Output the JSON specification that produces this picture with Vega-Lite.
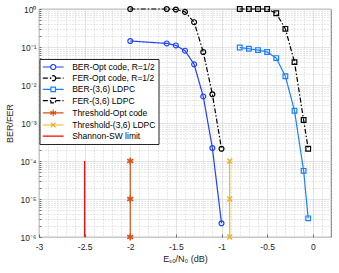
{
  "$schema": "https://vega.github.io/schema/vega-lite/v6.json",
  "width": 292,
  "height": 228,
  "autosize": {"type": "none"},
  "padding": {"left": 39, "top": 9, "right": 8, "bottom": 36},
  "background": "white",
  "config": {
    "font": "Liberation Sans",
    "view": {"stroke": "#404040", "strokeWidth": 0.8},
    "axis": {
      "labelFont": "Liberation Sans",
      "labelFontSize": 8.5,
      "labelColor": "#262626",
      "titleFont": "Liberation Sans",
      "titleFontSize": 9,
      "titleFontWeight": "normal",
      "titleColor": "#262626",
      "domain": false,
      "labelOverlap": false,
      "labelFlush": false,
      "tickColor": "#404040",
      "tickWidth": 0.7
    }
  },
  "data": {
    "values": [
      {"s": "BER-Opt code, R=1/2", "x": -2.0, "y": 0.144},
      {"s": "BER-Opt code, R=1/2", "x": -1.6, "y": 0.124},
      {"s": "BER-Opt code, R=1/2", "x": -1.5, "y": 0.11},
      {"s": "BER-Opt code, R=1/2", "x": -1.4, "y": 0.08},
      {"s": "BER-Opt code, R=1/2", "x": -1.3, "y": 0.035},
      {"s": "BER-Opt code, R=1/2", "x": -1.2, "y": 0.005},
      {"s": "BER-Opt code, R=1/2", "x": -1.1, "y": 0.00022},
      {"s": "BER-Opt code, R=1/2", "x": -1.0, "y": 0.0000023},
      {"s": "FER-Opt code, R=1/2", "x": -2.0, "y": 1},
      {"s": "FER-Opt code, R=1/2", "x": -1.6, "y": 1},
      {"s": "FER-Opt code, R=1/2", "x": -1.5, "y": 0.97},
      {"s": "FER-Opt code, R=1/2", "x": -1.4, "y": 0.84},
      {"s": "FER-Opt code, R=1/2", "x": -1.3, "y": 0.45},
      {"s": "FER-Opt code, R=1/2", "x": -1.2, "y": 0.074},
      {"s": "FER-Opt code, R=1/2", "x": -1.1, "y": 0.0057},
      {"s": "FER-Opt code, R=1/2", "x": -1.0, "y": 0.00021},
      {"s": "BER-(3,6) LDPC", "x": -0.8, "y": 0.097},
      {"s": "BER-(3,6) LDPC", "x": -0.7, "y": 0.09},
      {"s": "BER-(3,6) LDPC", "x": -0.6, "y": 0.083},
      {"s": "BER-(3,6) LDPC", "x": -0.5, "y": 0.074},
      {"s": "BER-(3,6) LDPC", "x": -0.4, "y": 0.051},
      {"s": "BER-(3,6) LDPC", "x": -0.3, "y": 0.017},
      {"s": "BER-(3,6) LDPC", "x": -0.2, "y": 0.0021},
      {"s": "BER-(3,6) LDPC", "x": -0.1, "y": 0.000055},
      {"s": "BER-(3,6) LDPC", "x": -0.05, "y": 0.0000031},
      {"s": "FER-(3,6) LDPC", "x": -0.8, "y": 1},
      {"s": "FER-(3,6) LDPC", "x": -0.7, "y": 1},
      {"s": "FER-(3,6) LDPC", "x": -0.6, "y": 1},
      {"s": "FER-(3,6) LDPC", "x": -0.5, "y": 1},
      {"s": "FER-(3,6) LDPC", "x": -0.4, "y": 0.77},
      {"s": "FER-(3,6) LDPC", "x": -0.3, "y": 0.3},
      {"s": "FER-(3,6) LDPC", "x": -0.2, "y": 0.04},
      {"s": "FER-(3,6) LDPC", "x": -0.1, "y": 0.0012},
      {"s": "FER-(3,6) LDPC", "x": -0.05, "y": 0.00021},
      {"s": "Threshold-Opt code", "x": -2.0, "y": 0.0001},
      {"s": "Threshold-Opt code", "x": -2.0, "y": 0.00001},
      {"s": "Threshold-Opt code", "x": -2.0, "y": 0.000001},
      {"s": "Threshold-(3,6) LDPC", "x": -0.91, "y": 0.0001},
      {"s": "Threshold-(3,6) LDPC", "x": -0.91, "y": 0.00001},
      {"s": "Threshold-(3,6) LDPC", "x": -0.91, "y": 0.000001},
      {"s": "Shannon-SW limit", "x": -2.5, "y": 0.0001},
      {"s": "Shannon-SW limit", "x": -2.5, "y": 0.000001}
    ]
  },
  "encoding": {
    "x": {
      "field": "x",
      "type": "quantitative",
      "scale": {"domain": [-3, 0.2], "nice": false, "zero": false},
      "axis": {
        "title": "Eₛₒ/N₀ (dB)",
        "titlePadding": 4,
        "values": [-3, -2.9, -2.8, -2.7, -2.6, -2.5, -2.4, -2.3, -2.2, -2.1, -2, -1.9, -1.8, -1.7, -1.6, -1.5, -1.4, -1.3, -1.2, -1.1, -1, -0.9, -0.8, -0.7, -0.6, -0.5, -0.4, -0.3, -0.2, -0.1, 0, 0.1, 0.2],
        "labelExpr": "abs(datum.value*2 - round(datum.value*2)) < 1e-6 ? '' + datum.value : ''",
        "grid": true,
        "gridColor": {"condition": {"test": "abs(datum.value*2 - round(datum.value*2)) < 1e-6", "value": "#dcdcdc"}, "value": "#c4c4c4"},
        "gridDash": {"condition": {"test": "abs(datum.value*2 - round(datum.value*2)) < 1e-6", "value": []}, "value": [1, 2]},
        "gridWidth": 0.8,
        "tickSize": -3,
        "tickOpacity": {"condition": {"test": "abs(datum.value*2 - round(datum.value*2)) < 1e-6", "value": 1}, "value": 0},
        "labelPadding": 8
      }
    },
    "y": {
      "field": "y",
      "type": "quantitative",
      "scale": {"type": "log", "domain": [0.000001, 1], "nice": false},
      "axis": {
        "title": "BER/FER",
        "titlePadding": 5,
        "values": [0.000001, 0.000002, 0.000003, 0.000004, 0.000005, 0.000006, 0.000007, 0.000008, 0.000009, 0.00001, 0.00002, 0.00003, 0.00004, 0.00005, 0.00006, 0.00007, 0.00008, 0.00009, 0.0001, 0.0002, 0.0003, 0.0004, 0.0005, 0.0006, 0.0007, 0.0008, 0.0009, 0.001, 0.002, 0.003, 0.004, 0.005, 0.006, 0.007, 0.008, 0.009, 0.01, 0.02, 0.03, 0.04, 0.05, 0.06, 0.07, 0.08, 0.09, 0.1, 0.2, 0.3, 0.4, 0.5, 0.6, 0.7, 0.8, 0.9, 1],
        "labelExpr": "abs(log(datum.value)/LN10 - round(log(datum.value)/LN10)) < 1e-6 ? '10' + (round(log(datum.value)/LN10) < 0 ? '⁻' : '') + substring('⁰¹²³⁴⁵⁶', abs(round(log(datum.value)/LN10)), abs(round(log(datum.value)/LN10)) + 1) : ''",
        "grid": true,
        "gridColor": {"condition": {"test": "abs(log(datum.value)/LN10 - round(log(datum.value)/LN10)) < 1e-6", "value": "#dcdcdc"}, "value": "#c4c4c4"},
        "gridDash": {"condition": {"test": "abs(log(datum.value)/LN10 - round(log(datum.value)/LN10)) < 1e-6", "value": []}, "value": [1, 2]},
        "gridWidth": 0.8,
        "tickSize": -2,
        "labelPadding": 5
      }
    },
    "color": {
      "field": "s",
      "type": "nominal",
      "scale": {
        "domain": ["BER-Opt code, R=1/2", "FER-Opt code, R=1/2", "BER-(3,6) LDPC", "FER-(3,6) LDPC", "Threshold-Opt code", "Threshold-(3,6) LDPC", "Shannon-SW limit"],
        "range": ["#1f40ff", "#000000", "#1a7fff", "#000000", "#d95319", "#edb120", "#ff0000"]
      },
      "legend": {
        "title": null,
        "orient": "none",
        "legendX": 0.5,
        "legendY": 50,
        "columns": 1,
        "padding": 3,
        "rowPadding": 1.2,
        "labelFont": "Liberation Sans",
        "labelFontSize": 8.5,
        "labelColor": "#000000",
        "labelLimit": 300,
        "symbolSize": 64,
        "symbolOffset": 5.7,
        "labelOffset": 14,
        "symbolStrokeWidth": 1.2,
        "symbolOpacity": 1,
        "symbolFillColor": "transparent",
        "strokeColor": "#262626",
        "fillColor": "white"
      }
    }
  },
  "layer": [
    {
      "mark": {"type": "line"},
      "encoding": {
        "strokeDash": {
          "field": "s",
          "type": "nominal",
          "scale": {
            "domain": ["BER-Opt code, R=1/2", "FER-Opt code, R=1/2", "BER-(3,6) LDPC", "FER-(3,6) LDPC", "Threshold-Opt code", "Threshold-(3,6) LDPC", "Shannon-SW limit"],
            "range": [[1, 0], [5, 2, 1.5, 2], [1, 0], [5, 2, 1.5, 2], [1, 0], [1, 0], [1, 0]]
          }
        },
        "strokeWidth": {
          "field": "s",
          "type": "nominal",
          "scale": {
            "domain": ["BER-Opt code, R=1/2", "FER-Opt code, R=1/2", "BER-(3,6) LDPC", "FER-(3,6) LDPC", "Threshold-Opt code", "Threshold-(3,6) LDPC", "Shannon-SW limit"],
            "range": [1.2, 1.2, 1.2, 1.2, 1.6, 1.6, 2]
          },
          "legend": null
        }
      }
    },
    {
      "transform": [{"filter": "datum.s == 'BER-Opt code, R=1/2' || datum.s == 'FER-Opt code, R=1/2'"}],
      "mark": {"type": "point", "shape": "circle", "filled": false, "size": 24, "strokeWidth": 1.2, "opacity": 1}
    },
    {
      "transform": [{"filter": "datum.s == 'BER-(3,6) LDPC' || datum.s == 'FER-(3,6) LDPC'"}],
      "mark": {"type": "point", "shape": "square", "filled": false, "size": 22, "strokeWidth": 1.2, "opacity": 1}
    },
    {
      "transform": [{"filter": "datum.s == 'Threshold-Opt code'"}],
      "mark": {"type": "point", "shape": "M0,-1L0,1M-0.87,-0.5L0.87,0.5M-0.87,0.5L0.87,-0.5", "filled": false, "size": 49, "strokeWidth": 1.6, "opacity": 1}
    },
    {
      "transform": [{"filter": "datum.s == 'Threshold-(3,6) LDPC'"}],
      "mark": {"type": "point", "shape": "M-0.75,-0.75L0.75,0.75M-0.75,0.75L0.75,-0.75", "filled": false, "size": 42, "strokeWidth": 1.4, "opacity": 1}
    },
    {
      "mark": {"type": "point", "filled": false, "opacity": 0, "size": 64},
      "encoding": {
        "shape": {
          "field": "s",
          "type": "nominal",
          "scale": {
            "domain": ["BER-Opt code, R=1/2", "FER-Opt code, R=1/2", "BER-(3,6) LDPC", "FER-(3,6) LDPC", "Threshold-Opt code", "Threshold-(3,6) LDPC", "Shannon-SW limit"],
            "range": [
              "M-2.6,0L-0.63,0M0.63,0L2.6,0M0.63,0A0.63,0.63,0,1,1,-0.63,0A0.63,0.63,0,1,1,0.63,0",
              "M-2.6,0L-0.63,0M0.63,0L2.6,0M0.63,0A0.63,0.63,0,1,1,-0.63,0A0.63,0.63,0,1,1,0.63,0",
              "M-2.6,0L-0.56,0M0.56,0L2.6,0M-0.56,-0.56L0.56,-0.56L0.56,0.56L-0.56,0.56Z",
              "M-2.6,0L-0.56,0M0.56,0L2.6,0M-0.56,-0.56L0.56,-0.56L0.56,0.56L-0.56,0.56Z",
              "M-2.6,0L2.6,0M0,-0.8L0,0.8M-0.7,-0.4L0.7,0.4M-0.7,0.4L0.7,-0.4",
              "M-2.6,0L2.6,0M-0.6,-0.6L0.6,0.6M-0.6,0.6L0.6,-0.6",
              "M-2.6,0L2.6,0"
            ]
          }
        }
      }
    }
  ]
}
